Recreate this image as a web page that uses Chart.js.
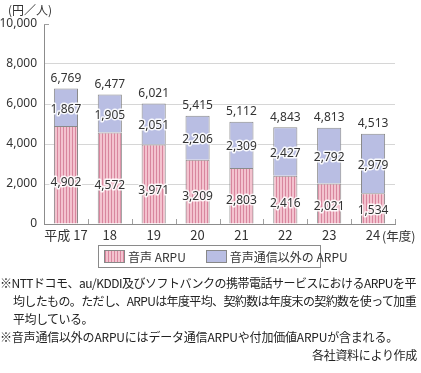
<!DOCTYPE html>
<html lang="ja">
<head>
<meta charset="utf-8">
<script src="https://cdn.jsdelivr.net/npm/chart.js@4.4.1/dist/chart.umd.min.js"></script>
<style>
  body { margin: 0; background: #fff; font-family: "Noto Sans CJK JP", "Noto Sans", sans-serif; color: #333; }
  #wrap { position: relative; width: 421px; height: 373px; overflow: hidden; }
  #arpuChart { position: absolute; left: 0; top: 0; }
  .unit { position: absolute; left: 8px; top: 1px; font-size: 12px; white-space: nowrap; }
  .nendo { position: absolute; left: 382px; top: 226px; font-size: 12.5px; white-space: nowrap; }
  .legend { position: absolute; left: 98px; top: 245px; width: 221px; height: 21px; border: 1px solid #8a8a8a;
            font-size: 12px; display: flex; align-items: center; }
  .legend .sw { display: inline-block; width: 19px; height: 11px; border: 1px solid #888; margin-right: 3px; }
  .legend .item { display: flex; align-items: center; white-space: nowrap; }
  .note { position: absolute; font-size: 12px; white-space: nowrap; color: #222; line-height: 1; }
</style>
</head>
<body>
<div id="wrap">
  <canvas id="arpuChart" width="421" height="250"></canvas>
  <div class="unit">(円／人)</div>
  <div class="nendo">(年度)</div>
  <div class="legend">
    <span class="item" style="margin-left:5px"><span class="sw" id="swVoice"></span>音声 ARPU</span>
    <span class="item" style="margin-left:20px"><span class="sw" style="background:#b9bee3"></span>音声通信以外の ARPU</span>
  </div>
  <div class="note" data-w="416" style="left:0px; top:277px;">※NTTドコモ、au/KDDI及びソフトバンクの携帯電話サービスにおけるARPUを平</div>
  <div class="note" data-w="403" style="left:13px; top:295px;">均したもの。ただし、ARPUは年度平均、契約数は年度末の契約数を使って加重</div>
  <div class="note" data-w="80" style="left:13px; top:313px;">平均している。</div>
  <div class="note" data-w="398" style="left:0px; top:331px;">※音声通信以外のARPUにはデータ通信ARPUや付加価値ARPUが含まれる。</div>
  <div class="note" data-w="105" style="left:312px; top:349px;">各社資料により作成</div>
</div>
<script>
// ============================================
// DATA
// ============================================

const years = ["平成 17", "18", "19", "20", "21", "22", "23", "24"];

const voiceArpu = [4902, 4572, 3971, 3209, 2803, 2416, 2021, 1534];

const nonVoiceArpu = [1867, 1905, 2051, 2206, 2309, 2427, 2792, 2979];

const totalArpu = [6769, 6477, 6021, 5415, 5112, 4843, 4813, 4513];

const yTicks = [0, 2000, 4000, 6000, 8000, 10000];


// squeeze the footnote lines to the width they have in the source
document.querySelectorAll(".note").forEach(el => {
    const target = Number(el.dataset.w);
    const chars = el.textContent.length;
    const diff = target - el.getBoundingClientRect().width;
    el.style.letterSpacing = (diff / chars) + "px";
});


// striped pink fill
function stripePattern() {
    const c = document.createElement("canvas");
    c.width = 3;
    c.height = 8;
    const g = c.getContext("2d");
    g.fillStyle = "#f3c3cf";
    g.fillRect(0, 0, 3, 8);
    g.fillStyle = "#d8869e";
    g.fillRect(0, 0, 1, 8);
    return g.createPattern(c, "repeat");
}

const ctx = document.getElementById("arpuChart").getContext("2d");
const pinkStripes = stripePattern();

document.getElementById("swVoice").style.background =
    "repeating-linear-gradient(90deg, #d8869e 0 1px, #f3c3cf 1px 3px)";

const fmt = v => v.toLocaleString("en-US");


// ============================================
// LABELS + SMALL AXIS TICKS
// ============================================

const valueLabels = {
    id: "valueLabels",
    afterDatasetsDraw(chart) {
        const c = chart.ctx;
        const voiceBars = chart.getDatasetMeta(0).data;
        const otherBars = chart.getDatasetMeta(1).data;

        c.save();
        c.font = "12px 'Noto Sans', sans-serif";
        c.textAlign = "center";
        c.textBaseline = "middle";
        c.lineJoin = "round";

        function put(text, x, y, halo) {
            if (halo) {
                c.strokeStyle = "rgba(255,255,255,0.9)";
                c.lineWidth = 3;
                c.strokeText(text, x, y);
            }
            c.fillStyle = "#333";
            c.fillText(text, x, y);
        }

        voiceBars.forEach((bar, i) => {
            const yv = bar.base - 0.42 * (bar.base - bar.y);
            put(fmt(voiceArpu[i]), bar.x, yv, true);

            const ob = otherBars[i];
            put(fmt(nonVoiceArpu[i]), ob.x, (ob.y + ob.base) / 2 + 2, true);

            put(fmt(totalArpu[i]), ob.x, ob.y - 10, false);
        });

        c.restore();
    },
    afterDraw(chart) {
        const c = chart.ctx;
        const x = chart.scales.x;
        const y = chart.scales.y;

        c.save();
        c.strokeStyle = "#a0a0a0";
        c.lineWidth = 1;
        c.beginPath();

        // little up-ticks between categories on the x axis
        for (let i = 0; i < years.length; i++) {
            const bx = i < years.length - 1
                ? (x.getPixelForValue(i) + x.getPixelForValue(i + 1)) / 2
                : x.right;
            const px = Math.round(bx) + 0.5;
            c.moveTo(px, y.bottom);
            c.lineTo(px, y.bottom - 5);
        }

        // short tick at the top of the y axis
        const ty = Math.round(y.getPixelForValue(10000)) + 0.5;
        c.moveTo(x.left, ty);
        c.lineTo(x.left + 5, ty);

        c.stroke();
        c.restore();
    }
};


// ============================================
// CHART
// ============================================

const arpuChart = new Chart(ctx, {
    type: "bar",

    data: {
        labels: years,
        datasets: [
            {
                label: "音声 ARPU",
                data: voiceArpu,
                backgroundColor: pinkStripes,
                borderColor: "#8a8a8a",
                borderWidth: 1,
                borderSkipped: "start"
            },
            {
                label: "音声通信以外の ARPU",
                data: nonVoiceArpu,
                backgroundColor: "#b9bee3",
                borderColor: "#8a8a8a",
                borderWidth: 1,
                borderSkipped: "start"
            }
        ]
    },

    options: {
        responsive: false,
        animation: false,
        devicePixelRatio: 1,
        layout: {
            padding: { top: 24, right: 26, left: 0, bottom: 0 }
        },
        datasets: {
            bar: {
                barPercentage: 0.55,
                categoryPercentage: 1
            }
        },
        plugins: {
            legend: { display: false },
            tooltip: { enabled: false }
        },
        scales: {
            x: {
                stacked: true,
                grid: { color: "rgba(0,0,0,0)", drawTicks: false },
                border: { color: "#8c8c8c" },
                ticks: {
                    color: "#333",
                    padding: 3,
                    maxRotation: 0,
                    autoSkip: false,
                    font: { family: "'Noto Sans CJK JP', sans-serif", size: 13 }
                },
                afterFit(scale) {
                    scale.height = 26;
                }
            },
            y: {
                stacked: true,
                min: 0,
                max: 10000,
                afterBuildTicks(scale) {
                    scale.ticks = yTicks.map(v => ({ value: v }));
                },
                grid: {
                    drawTicks: false,
                    color: c => (c.tick && (c.tick.value === 10000 || c.tick.value === 0))
                        ? "rgba(0,0,0,0)" : "#d6d6d6"
                },
                border: { color: "#8c8c8c" },
                ticks: {
                    color: "#333",
                    padding: 7,
                    font: { family: "'Noto Sans', sans-serif", size: 12 },
                    callback: v => fmt(v)
                },
                afterFit(scale) {
                    scale.width = 44;
                }
            }
        }
    },

    plugins: [valueLabels]
});
</script>
</body>
</html>
